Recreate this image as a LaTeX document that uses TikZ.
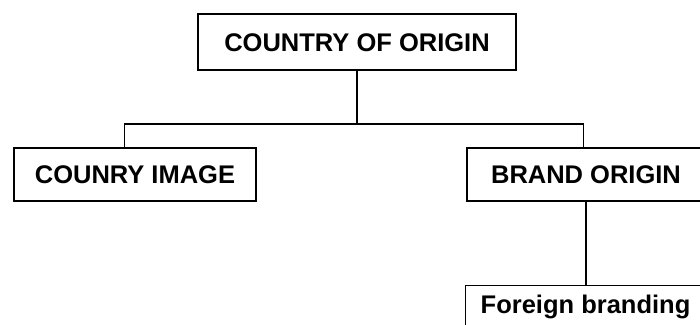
\documentclass[tikz,border=0pt]{standalone}
\usepackage{fontspec}
\setmainfont{Liberation Sans}
\usetikzlibrary{positioning}

\begin{document}
\begin{tikzpicture}[x=1pt, y=-1pt, line width=1.2pt,
        font=\fontsize{25.5}{30}\selectfont\bfseries,
        boxnode/.style={draw, text height=18.3pt, text depth=0pt, inner sep=0pt}]
        % Fix the frame and crop what runs over it
        \useasboundingbox (0,0) rectangle (700,324);
        \clip (0,0) rectangle (700,324);
        % Draw boxes
        \node[boxnode, minimum width=318pt, minimum height=56pt] (origin) at (357,42) {COUNTRY OF ORIGIN};
        \node[boxnode, minimum width=242pt, minimum height=53pt] (image) at (135,174.5) {COUNRY IMAGE};
        \node[boxnode, minimum width=238pt, minimum height=53pt] (brand) at (586,174.5) {BRAND ORIGIN};
        \node[draw, anchor=north, inner xsep=15pt, inner ysep=10pt,
            text height=18.3pt, text depth=25pt] (foreign) at (585.5,285) {Foreign branding};
        % Draw connectors
        \coordinate (split) at (357,124);
        \draw (origin.south) -- (split);
        \draw (split) -| ([xshift=-10.5pt]image.north);
        \draw (split) -| ([xshift=-2.5pt]brand.north);
        \draw (brand.south) -- (brand.south |- foreign.north);
    \end{tikzpicture}
\end{document}
